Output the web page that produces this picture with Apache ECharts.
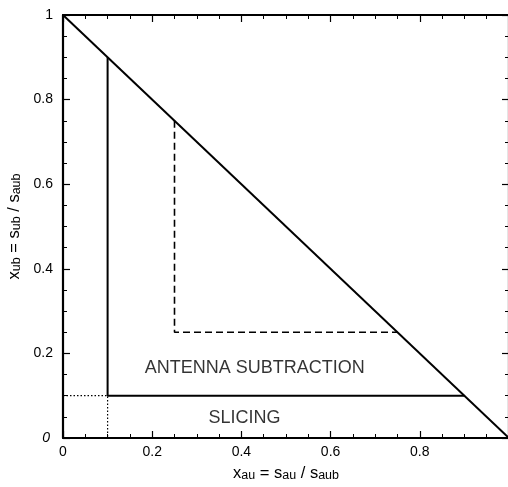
<!DOCTYPE html>
<html><head><meta charset="utf-8">
<script src="https://cdn.jsdelivr.net/npm/echarts@6/dist/echarts.min.js"></script>
<style>html,body{margin:0;padding:0;background:#fff}#c{width:508px;height:487px}</style>
</head><body><div id="c"></div>
<script>
// Data
const xTicks = [0, 0.2, 0.4, 0.6, 0.8];
const yTicks = [0, 0.2, 0.4, 0.6, 0.8, 1];
const diagonal = [[0, 1], [1, 0]];
const antennaBoundary = [[0.1, 0.9], [0.1, 0.1], [0.9, 0.1]];
const slicingCut = [[0, 0.1], [0.1, 0.1], [0.1, 0]];
const dashedBoundary = [[0.25, 0.75], [0.25, 0.25], [0.75, 0.25]];
const regionLabels = [
  { name: 'ANTENNA SUBTRACTION', value: [0.43, 0.166] },
  { name: 'SLICING', value: [0.407, 0.047] }
];

const FONT = 'Liberation Sans, Arial, Helvetica, sans-serif';
const chart = echarts.init(document.getElementById('c'));
function fmt(v) {
  if (Math.abs(v - 1) < 1e-9) return '1';
  if (Math.abs(v) < 1e-9) return '0';
  return v.toFixed(1);
}
const axisCommon = {
  type: 'value', min: 0, max: 1, interval: 0.2,
  splitLine: { show: false },
  axisLine: { show: true, onZero: false, lineStyle: { color: '#000', width: 2.2 } },
  axisTick: { show: true, inside: true, length: 7, lineStyle: { color: '#000', width: 1.2 } },
  minorTick: { show: true, splitNumber: 4, length: 4, lineStyle: { color: '#000', width: 1 } },
  minorSplitLine: { show: false }
};
const nameRich = {
  n: { fontSize: 16.5, fontFamily: FONT, color: '#000', verticalAlign: 'bottom', lineHeight: 19 },
  s: { fontSize: 12.5, fontFamily: FONT, color: '#000', verticalAlign: 'bottom', lineHeight: 13 }
};
const lineBase = { type: 'line', showSymbol: false, symbol: 'none', silent: true, animation: false };

chart.setOption({
  animation: false,
  backgroundColor: '#fff',
  grid: { left: 63, top: 15, right: -1, bottom: 49, outerBoundsMode: 'none', containLabel: false },
  xAxis: [
    Object.assign({}, axisCommon, {
      position: 'bottom',
      axisLabel: { color: '#000', fontSize: 14, fontFamily: FONT, margin: 7,
        formatter: v => (xTicks.some(t => Math.abs(t - v) < 1e-9) ? fmt(v) : '') },
      name: '{n|x}{s|au}{n| = s}{s|au}{n| / s}{s|aub}',
      nameLocation: 'middle', nameGap: 25,
      nameTextStyle: { color: '#000', fontFamily: FONT, rich: nameRich }
    }),
    Object.assign({}, axisCommon, { position: 'top', axisLabel: { show: false } })
  ],
  yAxis: [
    Object.assign({}, axisCommon, {
      position: 'left',
      axisLabel: { color: '#000', fontSize: 14, fontFamily: FONT, margin: 10,
        formatter: v => (yTicks.some(t => Math.abs(t - v) < 1e-9) ? (Math.abs(v) < 1e-9 ? '{i|0}' : fmt(v)) : ''),
        rich: { i: { fontStyle: 'italic', fontSize: 14, fontFamily: FONT, color: '#000', padding: [0, 3, 0, 0] } } },
      name: '{n|x}{s|ub}{n| = s}{s|ub}{n| / s}{s|aub}',
      nameLocation: 'middle', nameGap: 34, nameRotate: 90,
      nameTextStyle: { color: '#000', fontFamily: FONT, rich: nameRich }
    }),
    Object.assign({}, axisCommon, { position: 'right', axisLabel: { show: false } })
  ],
  series: [
    Object.assign({}, lineBase, { data: diagonal, lineStyle: { color: '#000', width: 2 } }),
    Object.assign({}, lineBase, { data: antennaBoundary, lineStyle: { color: '#000', width: 2 } }),
    Object.assign({}, lineBase, { data: slicingCut, lineStyle: { color: '#000', width: 1.2, type: [1.5, 2] } }),
    Object.assign({}, lineBase, { data: dashedBoundary, lineStyle: { color: '#000', width: 1.6, type: [7, 4] } }),
    {
      type: 'scatter', symbolSize: 0, silent: true, data: regionLabels,
      label: { show: true, position: 'inside', formatter: p => p.name, color: '#000', fontSize: 18, fontFamily: FONT }
    }
  ]
});
</script></body></html>
